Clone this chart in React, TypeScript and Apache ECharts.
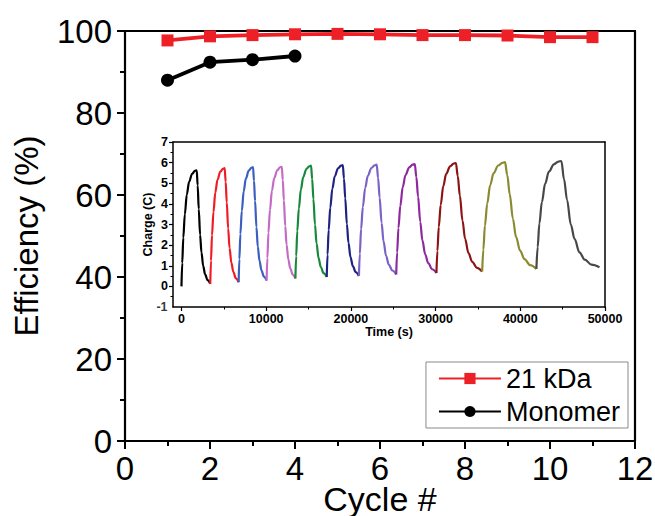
import React, { useEffect, useRef } from "react";
import * as echarts from "echarts";

const cycleNumbers = [1, 2, 3, 4, 5, 6, 7, 8, 9, 10, 11];
const kda21Efficiency = [97.7, 98.7, 99.0, 99.2, 99.3, 99.2, 99.0, 99.0, 98.9, 98.5, 98.5];
const monomerCycles = [1, 2, 3, 4];
const monomerEfficiency = [88.0, 92.4, 93.0, 93.9];

const xTickLabels = [0, 2, 4, 6, 8, 10, 12];
const insetTimeMin = -1000;
const insetTimeLabels = [0, 10000, 20000, 30000, 40000, 50000];
const insetTimeMinorTicks = [5000, 15000, 25000, 35000, 45000];
const insetChargeLabels = [0, 1, 2, 3, 4, 5, 6, 7];
const insetChargeBottom = -1;
const insetChargeMinorTicks = [-0.5, 0.5, 1.5, 2.5, 3.5, 4.5, 5.5, 6.5];

// Inset: charge (C) vs time (s), one array of [time, charge] per cycle
const cycle01 = [[0, 0], [90, 1.13], [216, 2.36], [396, 3.49], [630, 4.45], [900, 5.07], [1260, 5.46], [1584, 5.6], [1800, 5.63], [1912, 4.9], [2040, 3.75], [2200, 2.5], [2360, 1.65], [2568, 0.98], [2792, 0.58], [3080, 0.3], [3400, 0.12]];
const cycle02 = [[3400, 0.12], [3485, 1.24], [3604, 2.48], [3774, 3.6], [3995, 4.55], [4250, 5.17], [4590, 5.56], [4896, 5.7], [5100, 5.73], [5216, 5.07], [5348, 4.07], [5512, 2.8], [5678, 1.86], [5892, 1.14], [6123, 0.7], [6420, 0.39], [6750, 0.2]];
const cycle03 = [[6750, 0.2], [6835, 1.32], [6954, 2.54], [7124, 3.66], [7345, 4.61], [7600, 5.22], [7940, 5.61], [8246, 5.75], [8450, 5.78], [8562, 5.12], [8690, 4.13], [8850, 2.87], [9010, 1.93], [9218, 1.22], [9442, 0.78], [9730, 0.47], [10050, 0.28]];
const cycle04 = [[10050, 0.28], [10140, 1.38], [10266, 2.6], [10446, 3.7], [10680, 4.64], [10950, 5.25], [11310, 5.63], [11634, 5.77], [11850, 5.8], [11962, 5.15], [12090, 4.17], [12250, 2.93], [12410, 2.01], [12618, 1.3], [12842, 0.87], [13130, 0.57], [13450, 0.38]];
const cycle05 = [[13450, 0.38], [13543, 1.47], [13672, 2.68], [13857, 3.77], [14098, 4.7], [14375, 5.3], [14745, 5.69], [15078, 5.82], [15300, 5.85], [15430, 5.2], [15578, 4.23], [15763, 2.99], [15948, 2.07], [16188, 1.37], [16447, 0.94], [16780, 0.64], [17150, 0.45]];
const cycle06 = [[17150, 0.45], [17245, 1.54], [17378, 2.73], [17568, 3.82], [17815, 4.74], [18100, 5.34], [18480, 5.72], [18822, 5.85], [19050, 5.88], [19183, 5.23], [19335, 4.27], [19525, 3.03], [19715, 2.11], [19962, 1.41], [20228, 0.98], [20570, 0.69], [20950, 0.5]];
const cycle07 = [[20950, 0.5], [21055, 1.58], [21202, 2.77], [21412, 3.85], [21685, 4.77], [22000, 5.36], [22420, 5.74], [22798, 5.87], [23050, 5.9], [23211, 5.26], [23395, 4.3], [23625, 3.08], [23855, 2.18], [24154, 1.48], [24476, 1.06], [24890, 0.77], [25350, 0.58]];
const cycle08 = [[25350, 0.58], [25460, 1.65], [25614, 2.83], [25834, 3.9], [26120, 4.81], [26450, 5.4], [26890, 5.77], [27286, 5.9], [27550, 5.93], [27729, 5.3], [27933, 4.35], [28188, 3.13], [28443, 2.23], [28774, 1.55], [29131, 1.13], [29590, 0.83], [30100, 0.65]];
const cycle09 = [[30100, 0.65], [30215, 1.72], [30376, 2.89], [30606, 3.95], [30905, 4.86], [31250, 5.45], [31710, 5.82], [32124, 5.95], [32400, 5.98], [32617, 5.35], [32865, 4.4], [33175, 3.19], [33485, 2.3], [33888, 1.61], [34322, 1.19], [34880, 0.9], [35500, 0.72]];
const cycle10 = [[35500, 0.72], [35635, 1.78], [35824, 2.95], [36094, 4.01], [36445, 4.91], [36850, 5.49], [37390, 5.86], [37876, 5.99], [38200, 6.02], [38459, 5.4], [38755, 4.47], [39125, 3.28], [39495, 2.4], [39976, 1.73], [40494, 1.32], [41160, 1.03], [41900, 0.85]];
const cycle11 = [[41900, 0.85], [42048, 1.9], [42254, 3.05], [42549, 4.09], [42933, 4.98], [43375, 5.56], [43965, 5.92], [44496, 6.05], [44850, 6.08], [45162, 5.2], [45518, 4.2], [45963, 3.0], [46408, 2.3], [46986, 1.65], [47609, 1.3], [48410, 1.05], [49350, 0.93]];

const insetCycles = [cycle01, cycle02, cycle03, cycle04, cycle05, cycle06, cycle07, cycle08, cycle09, cycle10, cycle11];
const insetColors = ["#000000", "#f01c24", "#3a5fbf", "#c46cc4", "#17893a", "#1f2280", "#7a62c6", "#8d2a9c", "#8b1515", "#8a8a30", "#474747"];

const FONT = "Liberation Sans, Arial, Helvetica, sans-serif";

export default function App() {
  const ref = useRef<HTMLDivElement>(null);
  useEffect(() => {
    if (!ref.current) return;
    const chart = echarts.init(ref.current, undefined, { renderer: "svg" });
    const mainLabel = { fontFamily: FONT, fontSize: 33, lineHeight: 26, color: "#000", showMinLabel: true, showMaxLabel: true, hideOverlap: false };
    const insetLabel = { fontFamily: FONT, fontSize: 12.5, fontWeight: "bold" as const, color: "#000", showMinLabel: true, showMaxLabel: true, hideOverlap: false };
    const blackLine = (w: number) => ({ show: true, onZero: false, lineStyle: { color: "#000", width: w } });
    const plain = (v: number) => String(v);
    const option: any = {
      animation: false,
      backgroundColor: "#fff",
      grid: [
        { left: 125, right: 20, top: 31, bottom: 75, containLabel: false, outerBoundsMode: "none" },
        { left: 173, right: 50, top: 142, bottom: 209, containLabel: false, outerBoundsMode: "none" },
      ],
      xAxis: [
        {
          type: "value", gridIndex: 0, position: "bottom", min: 0, max: 12, interval: 2,
          axisLine: blackLine(2.2),
          axisTick: { show: true, length: 8, lineStyle: { color: "#000", width: 2 } },
          minorTick: { show: true, splitNumber: 2, length: 5, lineStyle: { color: "#000", width: 2 } },
          axisLabel: { ...mainLabel, margin: 14, customValues: xTickLabels, formatter: plain },
          splitLine: { show: false },
          name: "Cycle #", nameLocation: "middle", nameGap: 44, nameMoveOverlap: false,
          nameTextStyle: { fontFamily: FONT, fontSize: 34, color: "#000", verticalAlign: "top", lineHeight: 28 },
        },
        {
          type: "value", gridIndex: 0, position: "top", min: 0, max: 12,
          axisLine: blackLine(2.2), axisTick: { show: false }, axisLabel: { show: false }, splitLine: { show: false },
        },
        {
          type: "value", gridIndex: 1, position: "bottom", min: insetTimeMin, max: 50000,
          axisLine: blackLine(1.5),
          axisTick: { show: true, length: 4, customValues: insetTimeLabels, lineStyle: { color: "#000", width: 1.2 } },
          axisLabel: { ...insetLabel, margin: 5, customValues: insetTimeLabels, formatter: plain },
          splitLine: { show: false },
          name: "Time (s)", nameLocation: "middle", nameGap: 18, nameMoveOverlap: false,
          nameTextStyle: { fontFamily: FONT, fontSize: 12.5, fontWeight: "bold", color: "#000" },
        },
        {
          type: "value", gridIndex: 1, position: "top", min: insetTimeMin, max: 50000,
          axisLine: blackLine(1.5), axisTick: { show: false }, axisLabel: { show: false }, splitLine: { show: false },
        },
        {
          type: "value", gridIndex: 1, position: "bottom", min: insetTimeMin, max: 50000,
          axisLine: { show: false, onZero: false },
          axisTick: { show: true, length: 2.5, customValues: insetTimeMinorTicks, lineStyle: { color: "#000", width: 1 } },
          axisLabel: { show: false }, splitLine: { show: false },
        },
      ],
      yAxis: [
        {
          type: "value", gridIndex: 0, position: "left", min: 0, max: 100, interval: 20,
          axisLine: blackLine(2.2),
          axisTick: { show: true, length: 8, lineStyle: { color: "#000", width: 2 } },
          minorTick: { show: true, splitNumber: 2, length: 5, lineStyle: { color: "#000", width: 2 } },
          axisLabel: { ...mainLabel, margin: 13 },
          splitLine: { show: false },
          name: "Efficiency (%)", nameLocation: "middle", nameGap: 82, nameRotate: 90, nameMoveOverlap: false,
          nameTextStyle: { fontFamily: FONT, fontSize: 33, color: "#000" },
        },
        {
          type: "value", gridIndex: 0, position: "right", min: 0, max: 100,
          axisLine: blackLine(2.2), axisTick: { show: false }, axisLabel: { show: false }, splitLine: { show: false },
        },
        {
          type: "value", gridIndex: 1, position: "left", min: insetChargeBottom, max: 7,
          axisLine: blackLine(1.5),
          axisTick: { show: true, length: 4, customValues: insetChargeLabels, lineStyle: { color: "#000", width: 1.2 } },
          axisLabel: { ...insetLabel, margin: 5, customValues: insetChargeLabels, formatter: plain },
          splitLine: { show: false },
          name: "Charge (C)", nameLocation: "middle", nameGap: 19, nameRotate: 90, nameMoveOverlap: false,
          nameTextStyle: { fontFamily: FONT, fontSize: 12.5, fontWeight: "bold", color: "#000" },
        },
        {
          type: "value", gridIndex: 1, position: "right", min: insetChargeBottom, max: 7,
          axisLine: blackLine(1.5), axisTick: { show: false }, axisLabel: { show: false }, splitLine: { show: false },
        },
        {
          type: "value", gridIndex: 1, position: "left", min: insetChargeBottom, max: 7,
          axisLine: { show: false, onZero: false },
          axisTick: { show: true, length: 2.5, customValues: insetChargeMinorTicks, lineStyle: { color: "#000", width: 1 } },
          axisLabel: { show: false }, splitLine: { show: false },
        },
      ],
      legend: {
        data: ["21 kDa", "Monomer"],
        orient: "vertical",
        right: 27,
        top: 362,
        padding: [3, 8, 3, 12],
        itemGap: 6,
        itemWidth: 62,
        itemHeight: 14,
        backgroundColor: "#fff",
        borderColor: "#8a8a8a",
        borderWidth: 1,
        borderRadius: 0,
        textStyle: { fontFamily: FONT, fontSize: 27, color: "#000" },
      },
      series: [
        {
          name: "21 kDa", type: "line", xAxisIndex: 0, yAxisIndex: 0,
          data: cycleNumbers.map((c, i) => [c, kda21Efficiency[i]]),
          symbol: "rect", symbolSize: 12,
          itemStyle: { color: "#ee2027" },
          lineStyle: { color: "#ee2027", width: 3.8 },
          z: 5,
        },
        {
          name: "Monomer", type: "line", xAxisIndex: 0, yAxisIndex: 0,
          data: monomerCycles.map((c, i) => [c, monomerEfficiency[i]]),
          symbol: "circle", symbolSize: 13,
          itemStyle: { color: "#000" },
          lineStyle: { color: "#000", width: 3.8 },
          z: 5,
        },
        ...insetCycles.map((cyc, i) => ({
          name: "cycle " + (i + 1), type: "line", xAxisIndex: 2, yAxisIndex: 2,
          data: cyc, showSymbol: false, symbol: "none",
          smooth: 0.35, smoothMonotone: "x",
          lineStyle: { color: insetColors[i], width: 2.2 },
          itemStyle: { color: insetColors[i] },
        })),
        {
          // the inset's bottom charge tick label (-1), anchored at the axes' corner through the scales
          name: "charge axis bottom", type: "scatter", xAxisIndex: 2, yAxisIndex: 2,
          data: [[insetTimeMin, insetChargeBottom]],
          symbol: "circle", symbolSize: 1,
          itemStyle: { color: "rgba(0,0,0,0)" },
          silent: true, clip: false, z: 50,
          label: {
            show: true, position: "left", distance: 5,
            formatter: () => String(insetChargeBottom),
            fontFamily: FONT, fontSize: 12.5, fontWeight: "bold", color: "#000",
          },
          labelLayout: { hideOverlap: false },
        },
      ],
    };
    chart.setOption(option);
    return () => chart.dispose();
  }, []);
  return <div ref={ref} style={{ width: 655, height: 516, position: "absolute", left: 0, top: 0 }} />;
}
